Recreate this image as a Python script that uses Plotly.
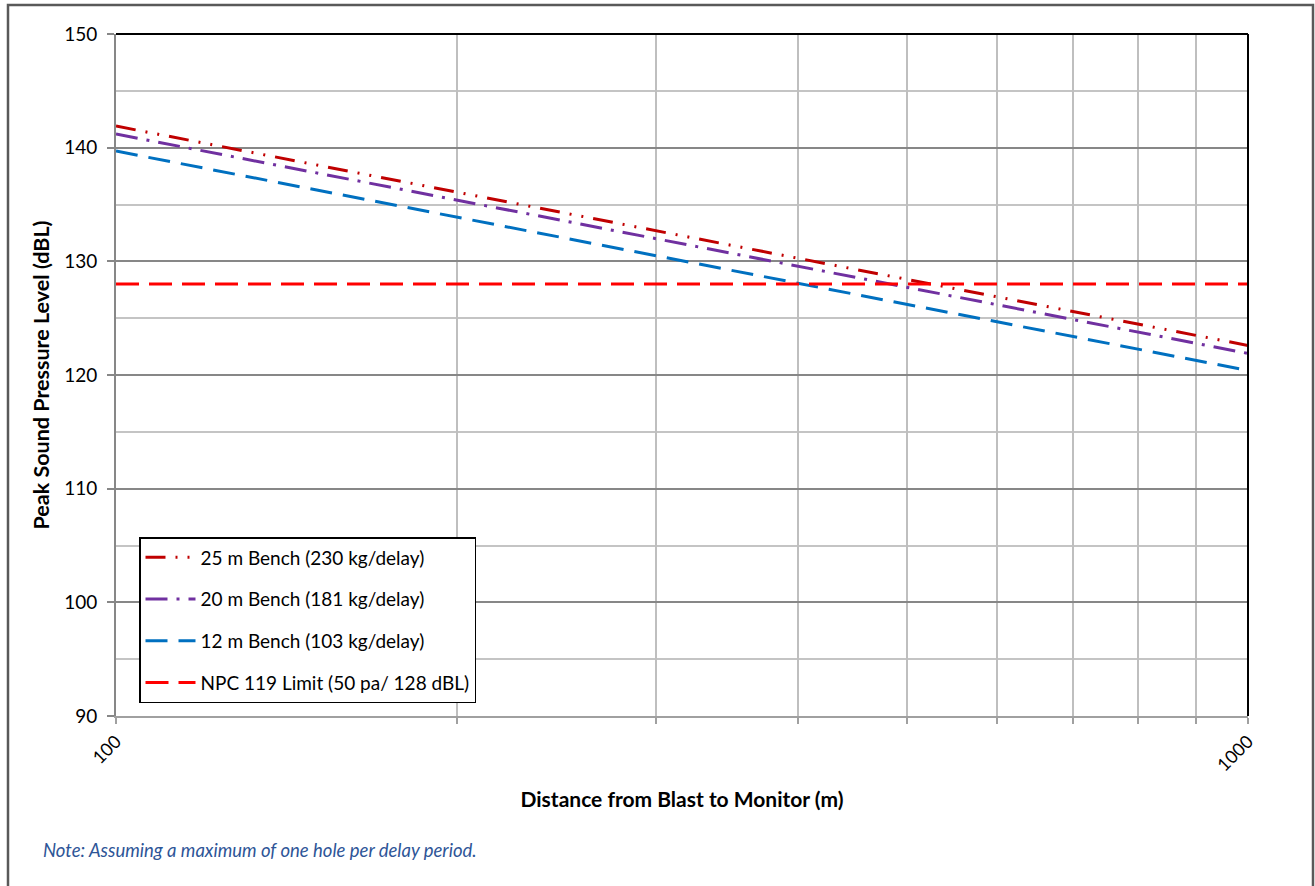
import plotly.graph_objects as go

# ---- data ----
distance_m = [100, 1000]
bench25_db = [141.9, 122.6]
bench20_db = [141.2, 121.9]
bench12_db = [139.7, 120.4]
npc_limit_db = [128, 128]

series_names = [
    "25 m Bench (230 kg/delay)",
    "20 m Bench (181 kg/delay)",
    "12 m Bench (103 kg/delay)",
    "NPC 119 Limit (50 pa/ 128 dBL)",
]
x_tickvals = [100, 200, 300, 400, 500, 600, 700, 800, 900, 1000]
x_ticktext = ["100", "", "", "", "", "", "", "", "", "1000"]

FONT = "Lato"

fig = go.Figure()
styles = [
    (bench25_db, "#C00000", "20px,10px,2px,10px,2px,10px"),
    (bench20_db, "#7030A0", "22px,9px,3px,9px"),
    (bench12_db, "#0070C0", "22px,11px"),
    (npc_limit_db, "#FF0000", "23px,10px"),
]
for i, (vals, col, dash) in enumerate(styles):
    fig.add_trace(go.Scatter(
        x=distance_m, y=vals, mode="lines", name=series_names[i],
        legendgroup=f"g{i}",
        line=dict(color=col, width=3, dash=dash),
    ))

W, H = 1315, 886
L, R, T, B = 116, 1248, 34, 716
pw, ph = R - L, B - T

def px(xp):
    return (xp - L) / pw

def py(yp):
    return (B - yp) / ph

fig.update_layout(
    width=W, height=H,
    margin=dict(l=L, r=W - R, t=T, b=H - B),
    paper_bgcolor="white", plot_bgcolor="white",
    font=dict(family=FONT, color="#000000", size=18),
    showlegend=True,
    legend=dict(
        x=px(139), y=py(537), xanchor="left", yanchor="top",
        bgcolor="white", bordercolor="black", borderwidth=1.5,
        font=dict(family=FONT, size=19, color="#000000"),
        tracegroupgap=14, itemwidth=50,
    ),
    xaxis=dict(
        type="log", range=[2, 3],
        tickvals=x_tickvals, ticktext=x_ticktext, tickangle=-45,
        showgrid=True, gridcolor="#BFBFBF", gridwidth=2,
        showline=True, linecolor="#A0A0A0", linewidth=2,
        ticks="outside", ticklen=6, tickcolor="#A0A0A0", tickwidth=2,
        tickfont=dict(family=FONT, size=18),
        zeroline=False,
        title=dict(text="<b>Distance from Blast to Monitor (m)</b>",
                   font=dict(family=FONT, size=21), standoff=18),
    ),
    yaxis=dict(
        range=[90, 150], dtick=10, tick0=90,
        showgrid=True, gridcolor="#878787", gridwidth=2,
        minor=dict(dtick=5, showgrid=True, gridcolor="#C4C4C4", gridwidth=2, ticks=""),
        showline=True, linecolor="#878787", linewidth=2,
        ticks="outside", ticklen=7, tickcolor="#878787", tickwidth=2,
        ticklabelstandoff=6,
        tickfont=dict(family=FONT, size=19),
        zeroline=False,
        title=dict(text="<b>Peak Sound Pressure Level (dBL)</b>",
                   font=dict(family=FONT, size=21.5), standoff=9),
    ),
    shapes=[
        dict(type="line", xref="x domain", yref="y domain", x0=0, x1=1, y0=1, y1=1,
             line=dict(color="black", width=2), layer="above"),
        dict(type="line", xref="x domain", yref="y domain", x0=1, x1=1, y0=0, y1=1,
             line=dict(color="black", width=2), layer="above"),
        dict(type="rect", xref="paper", yref="paper",
             x0=px(8), x1=px(1313), y0=py(920), y1=py(5),
             line=dict(color="#595959", width=2.5), fillcolor="rgba(0,0,0,0)"),
    ],
    annotations=[
        dict(text="<i>Note: Assuming a maximum of one hole per delay period.</i>",
             xref="paper", yref="paper", x=px(41), y=py(850),
             xanchor="left", yanchor="middle", showarrow=False,
             font=dict(family=FONT, size=18.5, color="#2E5597")),
    ],
)

fig.write_html("out.html", config={"displayModeBar": False},
               post_script="document.body.style.margin='0px';document.body.style.overflow='hidden';")
